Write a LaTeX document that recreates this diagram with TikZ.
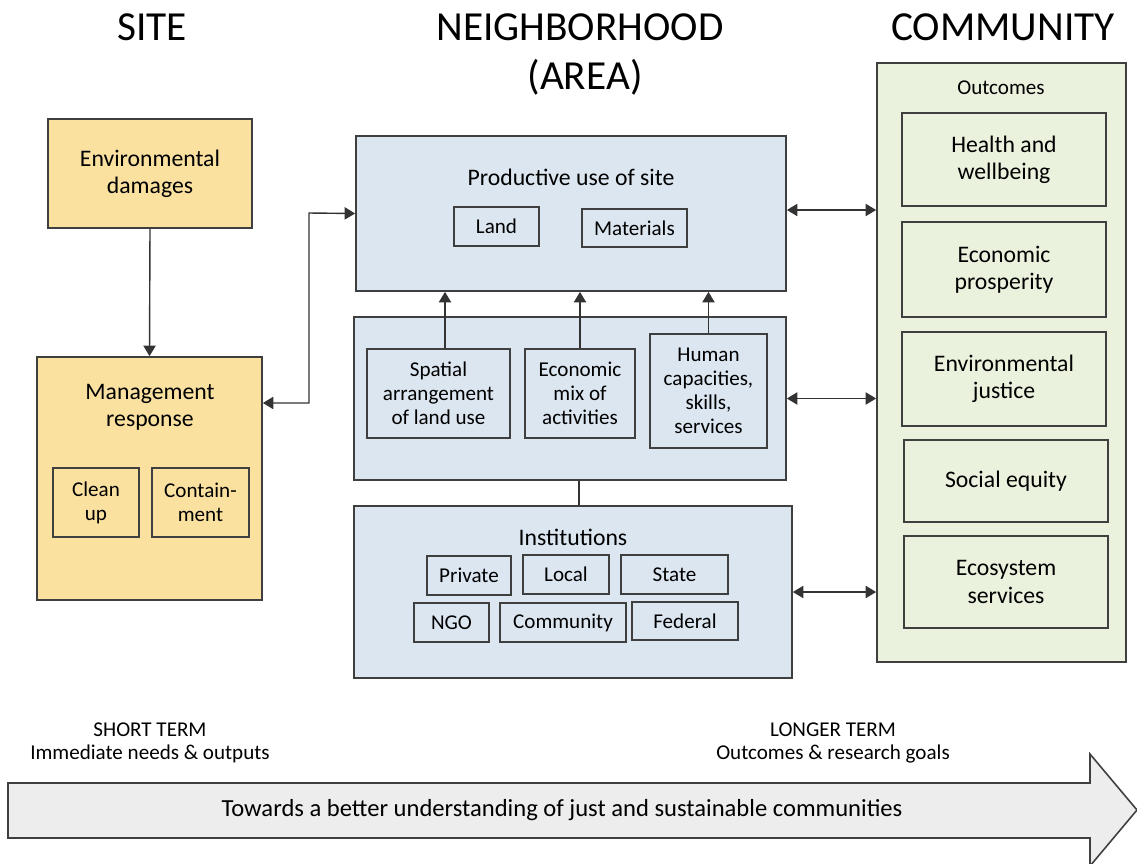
\documentclass[tikz,border=0pt]{standalone}
\usepackage{fontspec}
\setmainfont{Carlito}
\usetikzlibrary{arrows.meta}

\definecolor{sitefill}{HTML}{FAE1A0}
\definecolor{areafill}{HTML}{DCE6F1}
\definecolor{commfill}{HTML}{EAF1DD}
\definecolor{edge}{HTML}{3F3F3F}
\definecolor{bandfill}{HTML}{EDEDED}

\begin{document}
\begin{tikzpicture}[
    x=0.02cm, y=-0.02cm,
    wh/.style 2 args={minimum width=#1*0.02cm,minimum height=#2*0.02cm},
    box/.style={draw=edge,line width=1pt,inner sep=0pt,align=center,font=\fontsize{13.5}{15.5}\selectfont},
    item/.style={box,line width=0.9pt,font=\fontsize{12}{13.6}\selectfont},
    head/.style={font=\fontsize{23.5}{28}\selectfont},
    note/.style={font=\fontsize{12}{13}\selectfont,align=center},
    link/.style={draw=black!80,line width=0.8pt,>={Triangle[length=6pt,width=7pt]}},
    ]
    \useasboundingbox (0,0) rectangle (1137,863);

    % headings
    \node[head] (hsite) at (152,27) {SITE};
    \node[head] (harea) at (580,27) {NEIGHBORHOOD};
    \node[head] (harea2) at (585,77) {(AREA)};
    \node[head] (hcomm) at (1003,27) {COMMUNITY};

    % site
    \node[box,fill=sitefill,wh={204}{109}] (env) at (150,173.5) {Environmental\\damages};
    \node[box,fill=sitefill,wh={225}{243}] (mgmt) at (149.5,478.5) {};
    \node[align=center,font=\fontsize{13.5}{15.5}\selectfont] (mgmtlbl) at (150,407) {Management\\response};
    \node[item,wh={86}{69}] (clean) at (96,502.5) {Clean\\up};
    \node[item,wh={97}{69}] (contain) at (200.5,502.5) {Contain-\\ment};

    % neighborhood
    \node[box,fill=areafill,wh={430}{155}] (prod) at (571,213.5) {};
    \node[font=\fontsize{13.5}{15.5}\selectfont] (prodlbl) at (571,177) {Productive use of site};
    \node[item,wh={85}{39}] (land) at (496.5,226.5) {Land};
    \node[item,wh={105}{38}] (mat) at (634.5,228) {Materials};

    \node[box,fill=areafill,wh={432}{163}] (mix) at (570,398.5) {};
    \node[item,wh={143}{89}] (spatial) at (438.5,393.5) {Spatial\\arrangement\\of land use};
    \node[item,wh={110}{89}] (econ) at (580,393.5) {Economic\\mix of\\activities};
    \node[item,wh={117}{114}] (human) at (708.5,391) {Human\\capacities,\\skills,\\services};

    \node[box,fill=areafill,wh={438}{172}] (inst) at (573,592) {};
    \node[font=\fontsize{13.5}{15.5}\selectfont] (instlbl) at (573,537) {Institutions};
    \node[item,wh={84}{39}] (private) at (469,575.5) {Private};
    \node[item,wh={86}{39}] (local) at (566,574.5) {Local};
    \node[item,wh={107}{39}] (state) at (674.5,574.5) {State};
    \node[item,wh={75}{39}] (ngo) at (451.5,622.5) {NGO};
    \node[item,wh={126}{39}] (commty) at (563,622.5) {Community};
    \node[item,wh={106}{38}] (federal) at (685,621) {Federal};

    % community
    \node[box,fill=commfill,wh={249}{599}] (outc) at (1001.5,362.5) {};
    \node[font=\fontsize{12}{14}\selectfont] (outclbl) at (1001,88) {Outcomes};
    \node[box,wh={204}{93}] (health) at (1004,159.5) {Health and\\wellbeing};
    \node[box,wh={204}{95}] (prosper) at (1004,269.5) {Economic\\prosperity};
    \node[box,wh={204}{94}] (justice) at (1004,379) {Environmental\\justice};
    \node[box,wh={204}{82}] (equity) at (1006,481) {Social equity};
    \node[box,wh={204}{92}] (ecosys) at (1006,582) {Ecosystem\\services};

    % connectors
    \draw[link,->] (env.south) -- (mgmt.north);
    \draw[link,<->] (mgmt.east |- 0,403) -| (309,213) -- (prod.west);
    \draw[link,->] ([xshift=0.13cm]spatial.north) -- ([xshift=0.13cm]spatial.north |- prod.south);
    \draw[link,->] (econ.north) -- (econ.north |- prod.south);
    \draw[link,->] (human.north) -- (human.north |- prod.south);
    \draw[link] (mix.south -| 579,0) -- (inst.north -| 579,0);
    \draw[link,<->] (prod.east |- 0,210) -- (outc.west |- 0,210);
    \draw[link,<->] (mix.east) -- (mix.east -| outc.west);
    \draw[link,<->] (inst.east) -- (inst.east -| outc.west);

    % time line
    \node[note] (short) at (150,743) {SHORT TERM\\Immediate needs \& outputs};
    \node[note] (longer) at (833,743) {LONGER TERM\\Outcomes \& research goals};
    \draw[draw=edge,line width=0.9pt,fill=bandfill] (8,783) -- (1090,783) -- (1090,754) -- (1137,810)
        -- (1090,866) -- (1090,838) -- (8,838) -- cycle;
    \node[font=\fontsize{14}{16}\selectfont] (band) at (562,810) {Towards a better understanding of just and sustainable communities};
\end{tikzpicture}
\end{document}
